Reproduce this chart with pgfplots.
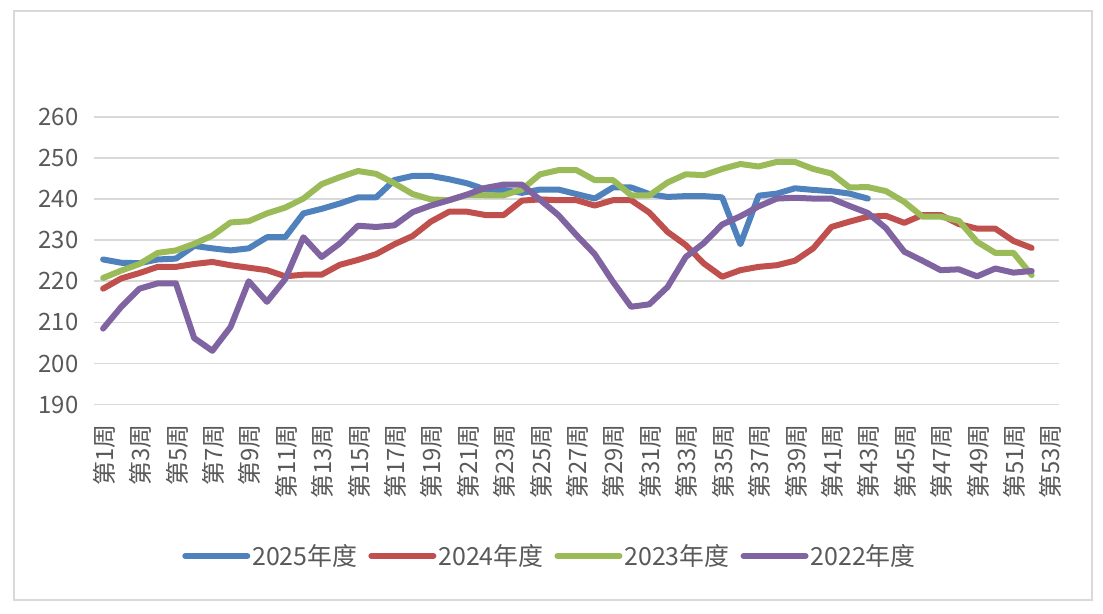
\documentclass[border=0pt]{standalone}
\usepackage{fontspec}
\usepackage{pgfplots}
\pgfplotsset{compat=1.18}
\newfontfamily\cjk{Noto Sans CJK SC}
\definecolor{s25}{HTML}{4F81BD}
\definecolor{s24}{HTML}{C0504D}
\definecolor{s23}{HTML}{9BBB59}
\definecolor{s22}{HTML}{8064A2}
\definecolor{gridc}{HTML}{D9D9D9}
\definecolor{txt}{HTML}{595959}
\begin{document}
\begin{tikzpicture}
\path[use as bounding box] (0bp,0bp) rectangle (1103bp,614bp);
\draw[gridc, line width=2bp] (14bp,14bp) rectangle (1092bp,603bp);
\begin{axis}[
	at={(94bp,209.3bp)}, anchor=south west,
	scale only axis,
	width=965bp, height=288bp,
	xmin=0.5, xmax=53.5,
	ymin=190, ymax=260,
	ytick={190,200,...,260},
	xtick={1,3,...,53},
	xticklabels={第1周,第3周,第5周,第7周,第9周,第11周,第13周,第15周,第17周,第19周,第21周,第23周,第25周,第27周,第29周,第31周,第33周,第35周,第37周,第39周,第41周,第43周,第45周,第47周,第49周,第51周,第53周},
	axis line style={draw=none},
	axis x line*=bottom,
	tick style={draw=none},
	ymajorgrids,
	grid style={gridc, line width=1.6bp},
	/pgf/number format/assume math mode=true,
	yticklabel style={font=\cjk\fontsize{24}{26}\selectfont, text=txt, xshift=-12bp},
	xticklabel style={font=\cjk\fontsize{24}{26}\selectfont, text=txt, rotate=90, anchor=east, xshift=-16bp, yshift=-1bp},
	legend style={at={(0.4725,-0.525)}, anchor=center, draw=none, fill=none,
		font=\cjk\fontsize{25}{27}\selectfont, text=txt, legend columns=4,
		/tikz/every even column/.append style={column sep=9bp}},
	legend image code/.code={\draw[#1, line width=6bp, line cap=round] (0bp,0bp) -- (62bp,0bp);},
	every axis plot/.append style={line width=6bp, line join=round, line cap=round, no marks},
]
\addplot[s25] coordinates {
(1,225.3) (2,224.5) (3,224.4) (4,225.3) (5,225.5) (6,228.6) (7,228.0) (8,227.5) (9,228.0) (10,230.7)
(11,230.7) (12,236.5) (13,237.6) (14,238.9) (15,240.4) (16,240.4) (17,244.6) (18,245.6) (19,245.6) (20,244.8)
(21,243.8) (22,242.3) (23,242.2) (24,241.5) (25,242.3) (26,242.3) (27,241.2) (28,240.1) (29,242.8) (30,242.8)
(31,241.2) (32,240.5) (33,240.7) (34,240.7) (35,240.4) (36,229.0) (37,240.8) (38,241.3) (39,242.6) (40,242.2)
(41,241.9) (42,241.3) (43,240.1)};
\addplot[s24] coordinates {
(1,218.2) (2,220.7) (3,222.0) (4,223.5) (5,223.5) (6,224.2) (7,224.7) (8,223.9) (9,223.3) (10,222.7)
(11,221.2) (12,221.6) (13,221.6) (14,224.0) (15,225.2) (16,226.6) (17,229.0) (18,231.0) (19,234.5) (20,236.9)
(21,236.9) (22,236.1) (23,236.1) (24,239.6) (25,239.9) (26,239.7) (27,239.7) (28,238.4) (29,239.7) (30,239.7)
(31,236.7) (32,232.0) (33,228.8) (34,224.3) (35,221.1) (36,222.7) (37,223.5) (38,223.9) (39,225.0) (40,228.0)
(41,233.2) (42,234.5) (43,235.7) (44,235.9) (45,234.2) (46,236.1) (47,236.1) (48,233.9) (49,232.8) (50,232.8)
(51,229.8) (52,228.1)};
\addplot[s23] coordinates {
(1,220.8) (2,222.6) (3,224.2) (4,226.9) (5,227.5) (6,229.1) (7,231.1) (8,234.3) (9,234.6) (10,236.5)
(11,237.9) (12,240.1) (13,243.6) (14,245.3) (15,246.8) (16,246.1) (17,243.8) (18,241.2) (19,239.9) (20,239.7)
(21,241.0) (22,240.9) (23,240.9) (24,242.3) (25,246.0) (26,247.0) (27,247.0) (28,244.6) (29,244.6) (30,240.9)
(31,240.9) (32,244.0) (33,246.0) (34,245.8) (35,247.3) (36,248.5) (37,247.9) (38,249.0) (39,249.0) (40,247.3)
(41,246.2) (42,242.8) (43,242.9) (44,241.9) (45,239.3) (46,235.7) (47,235.7) (48,234.7) (49,229.6) (50,226.9)
(51,226.9) (52,221.5)};
\addplot[s22] coordinates {
(1,208.5) (2,213.8) (3,218.2) (4,219.5) (5,219.5) (6,206.2) (7,203.1) (8,208.9) (9,220.0) (10,215.0)
(11,220.5) (12,230.7) (13,225.9) (14,229.2) (15,233.5) (16,233.2) (17,233.6) (18,236.8) (19,238.4) (20,239.7)
(21,241.1) (22,242.7) (23,243.5) (24,243.5) (25,239.8) (26,236.1) (27,231.2) (28,226.6) (29,219.9) (30,213.8)
(31,214.4) (32,218.6) (33,225.9) (34,229.3) (35,233.8) (36,235.8) (37,238.2) (38,240.1) (39,240.3) (40,240.1)
(41,240.1) (42,238.3) (43,236.6) (44,232.9) (45,227.2) (46,225.0) (47,222.7) (48,222.9) (49,221.2) (50,223.1)
(51,222.1) (52,222.5)};
\legend{2025年度,2024年度,2023年度,2022年度}
\end{axis}
\end{tikzpicture}
\end{document}
